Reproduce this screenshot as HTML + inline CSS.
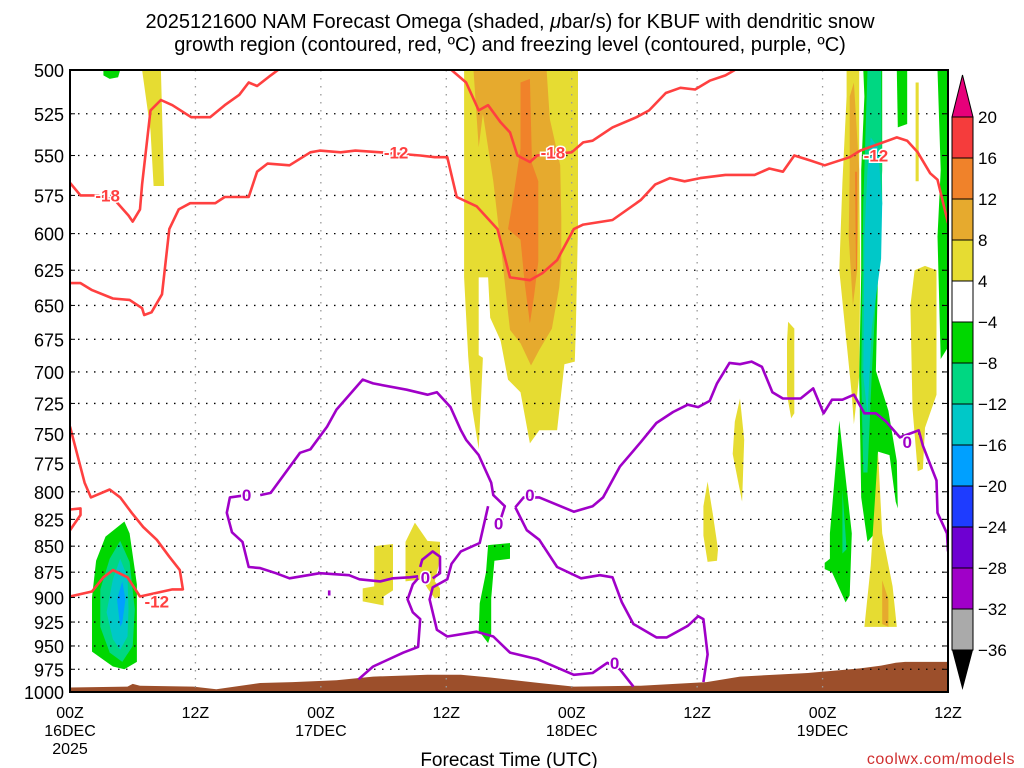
<!DOCTYPE html>
<html><head><meta charset="utf-8"><style>
html,body{margin:0;padding:0;background:#fff;}
svg{display:block;font-family:"Liberation Sans",sans-serif;}
</style></head><body>
<svg id="chart" width="1024" height="768" viewBox="0 0 1024 768" xmlns="http://www.w3.org/2000/svg">
<rect x="0" y="0" width="1024" height="768" fill="#fff"/>
<text x="510" y="28" text-anchor="middle" font-size="20" fill="#000">2025121600 NAM Forecast Omega (shaded, <tspan font-style="italic">μ</tspan>bar/s) for KBUF with dendritic snow</text>
<text x="510" y="51" text-anchor="middle" font-size="20" fill="#000">growth region (contoured, red, ºC) and freezing level (contoured, purple, ºC)</text>
<g id="plot"></g>
<g id="yaxis"></g>
<g id="xaxis"></g>
<g id="cbar"></g>
<text x="509" y="766" text-anchor="middle" font-size="19" fill="#000">Forecast Time (UTC)</text>
<text x="1015" y="764" text-anchor="end" font-size="16" fill="#d03030" letter-spacing="0.5">coolwx.com/models</text>
</svg>
<script>
// ---- data ----
const pLevels=[500,525,550,575,600,625,650,675,700,725,750,775,800,825,850,875,900,925,950,975,1000];
const timeTickLabels=["00Z","12Z","00Z","12Z","00Z","12Z","00Z","12Z"];
const timeTickAll=[0,12,24,36,48,60,72,84];
const dayLabels=[["16DEC","2025"],null,["17DEC"],null,["18DEC"],null,["19DEC"],null];
const cbarBounds=[20,16,12,8,4,-4,-8,-12,-16,-20,-24,-28,-32,-36];
const cbarColors=["#f53c3c","#f0822a","#e6aa2e","#e6dc32","#ffffff","#00d700","#00d782","#00c8c8","#00a0ff","#1e3cff","#6e00d2","#a000c8","#aaaaaa"];
// shaded omega regions [forecast hour, hPa]
const shadeGreenTopLeft=[[3.2,500],[4.8,500],[4.6,504],[3.8,505],[3.2,503]];
const shadeYellowTopLeft=[[6.9,500],[8.7,500],[9.0,569],[8.0,569],[7.7,535]];
const shadeYellowMid=[[37.7,500],[48.6,500],[48.6,595],[48.4,665],[48.3,692],[47.3,694],[46.6,747],[44.9,747],[44.0,758],[43.1,716],[41.9,706],[41.2,676],[40.2,659],[40.0,630],[39.1,630],[39.1,687],[39.5,689],[39.1,763],[38.5,730],[38.1,688],[37.7,630]];
const shadeGoldMid=[[38.6,500],[45.6,500],[45.9,528],[46.9,556],[47.0,589],[47.0,620],[46.8,637],[46.1,667],[44.9,683],[44.1,695],[43.1,678],[42.1,668],[41.9,655],[41.3,614],[40.5,566],[39.5,525],[39.1,545]];
const shadeOrangeMid=[[43.1,507],[44.0,505],[44.2,555],[44.8,566],[44.8,619],[44.4,643],[44.0,663],[43.5,634],[43.1,604],[41.9,597],[42.3,581],[43.1,546]];
const shadeGreenLowLeft=[[5.2,827],[5.7,838],[6.4,887],[6.4,925],[6.4,967],[5.5,973],[5.2,975],[4.1,972],[2.1,956],[2.1,900],[2.5,864],[3.4,841]];
const shadeTealLowLeft=[[4.8,845],[5.7,865],[6.2,912],[6.0,950],[5.0,967],[3.8,957],[2.9,930],[2.9,892],[3.8,862]];
const shadeCyanLowLeft=[[4.8,862],[5.5,880],[5.6,912],[5.5,940],[4.8,954],[4.1,943],[3.5,915],[4.1,882]];
const shadeBlueLowLeft=[[5.0,884],[5.3,902],[5.0,926],[4.8,930],[4.5,902]];
const shadeYellowPatchA=[[29.1,850],[30.9,848],[30.9,893],[30.0,899],[30.0,908],[28.0,904],[28.0,891],[29.1,889]];
const shadeYellowPatchB=[[33.0,828],[34.2,845],[35.4,846],[35.4,863],[34.9,884],[35.4,891],[35.4,899],[34.9,901],[34.2,891],[33.7,882],[32.1,884],[32.1,846]];
const shadeGreen18=[[40.0,849],[42.1,847],[42.1,862],[40.6,864],[40.3,901],[40.3,937],[40.0,947],[39.1,934],[39.2,906],[39.8,875]];
const shadeSpindle1=[[68.7,662],[69.3,667],[69.3,733],[69.0,737],[68.6,718],[68.6,677]];
const shadeSpindle2=[[64.1,721],[64.5,755],[64.3,809],[63.4,767],[63.6,740]];
const shadeSpindle3=[[61.0,791],[61.5,820],[62.0,853],[61.9,864],[61.0,865],[60.6,840],[60.6,813]];
const shadeYellowR1=[[74.3,500],[75.5,500],[75.5,559],[75.6,625],[75.5,703],[75.0,742],[74.8,718],[73.6,625],[73.9,567],[74.3,515]];
const shadeGoldR1=[[74.6,515],[75.0,507],[75.5,559],[75.3,625],[74.9,650],[74.5,602],[74.6,559]];
const shadeOrangeR1=[[75.1,560],[75.3,560],[75.3,625],[75.2,625]];
const shadeGreenR1=[[75.9,500],[77.7,500],[77.7,559],[77.3,627],[77.1,699],[78.3,731],[79.1,773],[79.2,815],[79.0,809],[78.4,768],[77.3,765],[77.0,838],[76.3,846],[75.7,805],[75.5,703],[75.7,627],[75.7,559],[76.0,515]];
const shadeTealR1=[[76.3,500],[77.6,500],[77.7,580],[77.1,643],[76.7,703],[76.3,783],[75.9,783],[75.7,703],[75.9,580]];
const shadeCyanR1=[[76.6,539],[77.3,545],[77.7,580],[77.6,617],[76.7,667],[76.3,734],[75.9,703],[76.0,602],[76.3,559]];
const shadeGreenR2=[[79.1,500],[80.1,500],[80.1,531],[79.2,533]];
const shadeGreenR3=[[83.0,500],[84,500],[84,681],[83.3,690],[83.0,602],[83.3,559]];
const shadeYellowThinR=[[80.9,507],[81.2,507],[81.2,566],[80.9,566]];
const shadeYellowR2=[[80.8,625],[81.8,622],[82.9,625],[82.9,718],[81.8,745],[81.6,780],[81.1,782],[80.6,729],[80.4,650]];
const shadeGreenR4=[[73.6,739],[74.8,838],[74.6,898],[74.2,905],[72.9,875],[72.2,872],[72.2,866],[72.7,862],[72.7,838],[73.2,783]];
const shadeTealR4=[[73.9,798],[74.3,853],[73.9,857],[73.9,822]];
const shadeYellowR3=[[77.3,765],[77.7,838],[78.7,889],[79.1,930],[76.0,930],[76.6,869]];
const shadeGoldR3=[[77.7,883],[78.3,902],[78.3,930],[77.7,927]];
// terrain (surface pressure)
const terrainHours=[0,5.5,6.0,6.7,11.8,14.0,18.2,21.3,25.5,29.0,34.2,37.4,40.2,44.9,48.2,54.6,60.9,64.1,70.6,73.6,75.6,77.6,79.0,79.9,84];
const terrainP=[995,994,991,993,994,997,990,989,987,983,981,981,984,990,994,993,989,983,979,976,974,971,968,967,967];
// red contours (dendritic growth, ºC)
const redMinus18a=[[0,567],[1.0,575],[2.7,575],[4.3,578],[5.6,588],[6.0,592],[6.7,584],[6.9,568],[7.7,523],[8.7,517],[9.8,520],[11.6,527],[13.4,527],[14.8,520],[16.2,514],[17.1,507],[17.9,509],[19.2,503],[19.9,500]];
const redMinus12a=[[0,634],[1.0,634],[2.1,639],[4.1,645],[5.7,646],[6.9,652],[7.1,657],[7.8,655],[8.8,642],[9.5,597],[10.4,584],[11.5,580],[13.9,580],[14.8,576],[17.1,576],[17.9,560],[18.9,555],[21.0,556],[23.0,548],[23.9,547],[25.9,548],[27.3,547],[29.7,548],[33.5,550],[34.9,551],[36.1,551],[37.0,576],[38.9,582],[40.9,597],[42.1,630],[44.0,632],[45.2,627],[46.6,618],[48.2,597],[49.1,594],[51.9,591],[54.6,578],[56.0,568],[57.4,564],[58.8,566],[60.3,564],[62.7,562],[65.5,562],[66.9,558],[68.2,560],[69.3,550],[70.8,553],[72.2,556],[74.6,551],[75.6,547],[79.1,539],[80.1,541],[81.1,548],[82.3,561],[83.0,565],[84,593]];
const redMinus18b=[[36.5,500],[37.9,507],[39.1,523],[40.0,520],[41.2,530],[42.1,536],[42.8,550],[44.0,554],[44.7,550],[48.0,548],[49.1,542],[50.0,541],[51.9,533],[54.2,527],[55.4,523],[57.0,513],[58.4,510],[59.8,511],[61.2,506],[62.7,503],[63.6,500]];
const redMinus12b=[[0,744],[1.4,792],[2.0,805],[3.8,798],[4.8,805],[5.9,819],[7.0,832],[8.3,844],[9.5,860],[10.5,873],[10.8,892],[9.8,892],[6.7,899],[5.5,880],[4.1,873],[3.2,880],[2.1,894],[0,899]];
const redMinus12c=[[0,816],[1.0,815],[1.0,821],[0,835]];
const redLabels=[["-18",3.6,575],["-12",31.2,548],["-18",46.2,548],["-12",77.1,550],["-12",8.3,904]];
// purple contours (freezing level, 0ºC)
const purpleUpper=[[18.2,803],[19.2,801],[22.0,766],[23.0,763],[24.6,744],[25.5,730],[28.0,706],[29.0,709],[32.2,714],[34.2,718],[35.1,716],[36.4,728],[37.4,747],[37.9,755],[39.1,768],[40.3,792],[40.5,803],[41.6,813],[41.2,825]];
const purpleLeft=[[16.9,803],[15.3,805],[15.0,819],[15.5,837],[16.5,846],[17.1,870],[18.2,871],[19.7,876],[21.0,881],[23.9,876],[26.7,878],[27.7,882],[29.7,884],[30.9,881],[32.5,880],[33.3,879]];
const purpleLoop=[[33.5,870],[33.7,863],[34.7,855],[35.4,860],[35.4,876],[34.7,881]];
const purpleLowBranch=[[27.6,986],[29.0,972],[31.9,957],[33.3,951],[33.5,922],[32.8,915],[32.3,902],[32.8,887],[33.3,881]];
const purpleRight=[[40.0,813],[39.2,847],[37.4,855],[36.5,867],[36.1,882],[34.7,890],[34.4,902],[35.1,933],[36.1,940],[38.9,935],[40.5,940],[42.1,957],[44.7,964],[48.2,981],[50.0,979],[51.4,968],[52.6,975],[53.9,994]];
const purpleEast=[[42.6,814],[43.4,805],[44.9,805],[48.2,818],[50.0,813],[51.0,805],[52.6,778],[54.6,757],[56.1,741],[57.7,732],[59.1,726],[60.1,728],[61.2,723],[61.9,709],[63.1,693],[64.1,694],[65.2,692],[66.2,696],[67.2,716],[68.2,721],[69.9,721],[71.1,713],[72.1,733],[72.9,722],[73.9,722],[75.0,718],[76.0,733],[77.1,733],[78.1,740],[79.4,753],[81.2,747],[81.6,760],[82.9,790],[83.0,819],[83.9,838],[84,855]];
const purpleSouth=[[42.6,814],[43.7,835],[44.9,844],[46.6,870],[48.9,881],[50.7,878],[51.9,880],[52.8,905],[53.9,927],[56.1,941],[57.1,941],[59.1,929],[60.1,919],[60.6,922],[60.8,940],[61.0,959],[60.6,989]];
const purpleDot=[[24.8,893],[24.8,898]];
const purpleLabels=[["0",16.9,803],["0",34.0,880],["0",41.0,829],["0",44.0,803],["0",52.1,968],["0",80.1,757]];

// ---- scales ----
const X0=70,X1=948,Y0=70,Y1=692,HMAX=84;
const xS=h=>X0+(h/HMAX)*(X1-X0);
const yS=p=>Y0+(Math.log(p/500)/Math.log(1000/500))*(Y1-Y0);
const NS="http://www.w3.org/2000/svg";
function mk(tag,attrs,parent){const e=document.createElementNS(NS,tag);for(const k in attrs)e.setAttribute(k,attrs[k]);parent.appendChild(e);return e;}
const plotG=document.getElementById('plot');
const pts=a=>a.map(d=>xS(d[0]).toFixed(1)+","+yS(d[1]).toFixed(1)).join(" ");

const defsEl=mk('defs',{},plotG);
const cpEl=mk('clipPath',{id:'pc'},defsEl);
mk('rect',{x:X0,y:Y0,width:X1-X0,height:Y1-Y0},cpEl);
const gIn=mk('g',{'clip-path':'url(#pc)'},plotG);

function shade(arr,color,name){
  const e=mk('polygon',{points:pts(arr),fill:color},gIn);
  
  
}
shade(shadeGreenTopLeft,"#00d700","omega-green-topleft");
shade(shadeYellowTopLeft,"#e6dc32","omega-yellow-topleft");
shade(shadeYellowMid,"#e6dc32","omega-yellow-mid");
shade(shadeGoldMid,"#e6aa2e","omega-gold-mid");
shade(shadeOrangeMid,"#f0822a","omega-orange-mid");
shade(shadeGreenLowLeft,"#00d700","omega-green-lowleft");
shade(shadeTealLowLeft,"#00d782","omega-teal-lowleft");
shade(shadeCyanLowLeft,"#00c8c8","omega-cyan-lowleft");
shade(shadeBlueLowLeft,"#00a0ff","omega-blue-lowleft");
shade(shadeYellowPatchA,"#e6dc32","omega-yellow-patch-a");
shade(shadeYellowPatchB,"#e6dc32","omega-yellow-patch-b");
shade(shadeGreen18,"#00d700","omega-green-18dec");
shade(shadeSpindle1,"#e6dc32","omega-yellow-spindle1");
shade(shadeSpindle2,"#e6dc32","omega-yellow-spindle2");
shade(shadeSpindle3,"#e6dc32","omega-yellow-spindle3");
shade(shadeYellowR1,"#e6dc32","omega-yellow-r1");
shade(shadeGoldR1,"#e6aa2e","omega-gold-r1");
shade(shadeOrangeR1,"#f0822a","omega-orange-r1");
shade(shadeGreenR1,"#00d700","omega-green-r1");
shade(shadeTealR1,"#00d782","omega-teal-r1");
shade(shadeCyanR1,"#00c8c8","omega-cyan-r1");
shade(shadeGreenR2,"#00d700","omega-green-r2");
shade(shadeGreenR3,"#00d700","omega-green-r3");
shade(shadeYellowThinR,"#e6dc32","omega-yellow-thin-r");
shade(shadeYellowR2,"#e6dc32","omega-yellow-r2");
shade(shadeGreenR4,"#00d700","omega-green-r4");
shade(shadeTealR4,"#00d782","omega-teal-r4");
shade(shadeYellowR3,"#e6dc32","omega-yellow-r3");
shade(shadeGoldR3,"#e6aa2e","omega-gold-r3");

const tArr=terrainHours.map((h,i)=>[h,terrainP[i]]);
const terr=mk('polygon',{points:pts(tArr)+" "+xS(HMAX)+","+Y1+" "+xS(0)+","+Y1,fill:"#9c4f2b"},gIn);



pLevels.forEach(p=>{
  const l=mk('line',{x1:X0,x2:X1,y1:yS(p),y2:yS(p),stroke:"#000","stroke-width":1.3,"stroke-dasharray":"1.5,6.5"},gIn);
  
  
});
timeTickAll.forEach(h=>{
  if(h===0||h>=HMAX) return;
  const l=mk('line',{x1:xS(h),x2:xS(h),y1:Y0,y2:Y1,stroke:"#999","stroke-width":1.3,"stroke-dasharray":"1.5,6.5"},gIn);
  
  
});

function contour(arr,color,name){
  const e=mk('polyline',{points:pts(arr),fill:"none",stroke:color,"stroke-width":2.6,"stroke-linejoin":"round"},gIn);
  
  
}
const RED="#ff4040",PUR="#a000c8";
contour(redMinus18a,RED,"contour-minus18-west");
contour(redMinus12a,RED,"contour-minus12-main");
contour(redMinus18b,RED,"contour-minus18-east");
contour(redMinus12b,RED,"contour-minus12-low");
contour(redMinus12c,RED,"contour-minus12-edge");
contour(purpleUpper,PUR,"freezing-level-upper");
contour(purpleLeft,PUR,"freezing-level-left");
contour(purpleLoop,PUR,"freezing-level-loop");
contour(purpleLowBranch,PUR,"freezing-level-low");
contour(purpleRight,PUR,"freezing-level-right");
contour(purpleEast,PUR,"freezing-level-east");
contour(purpleSouth,PUR,"freezing-level-south");
contour(purpleDot,PUR,"freezing-level-dot");

function clabel(arr,color,name){
  arr.forEach(d=>{
    const t=mk('text',{x:xS(d[1]),y:yS(d[2])+6,"text-anchor":"middle","font-size":17,"font-weight":"bold",fill:color,stroke:"#fff","stroke-width":3,"paint-order":"stroke"},gIn);
    t.textContent=d[0];
    
    
  });
}
clabel(redLabels,RED,"contour-label-red");
clabel(purpleLabels,PUR,"contour-label-purple");

const fr=mk('rect',{x:X0,y:Y0,width:X1-X0,height:Y1-Y0,fill:"none",stroke:"#000","stroke-width":2},plotG);



const ya=document.getElementById('yaxis');
pLevels.forEach(p=>{
  const t=mk('text',{x:64,y:yS(p)+7,"text-anchor":"end","font-size":18,fill:"#000"},ya);
  t.textContent=p;
  
  
  mk('line',{x1:X0,x2:X0+5,y1:yS(p),y2:yS(p),stroke:"#000","stroke-width":1},ya);
  mk('line',{x1:X1-5,x2:X1,y1:yS(p),y2:yS(p),stroke:"#000","stroke-width":1},ya);
});
const xa=document.getElementById('xaxis');
timeTickAll.forEach((h,i)=>{
  if(h>HMAX) return;
  const x=xS(h);
  const t=mk('text',{x:x,y:718,"text-anchor":"middle","font-size":16,fill:"#000"},xa);
  t.textContent=timeTickLabels[i];
  
  
  if(dayLabels[i]){
    dayLabels[i].forEach((s,k)=>{
      const d=mk('text',{x:x,y:736+k*18,"text-anchor":"middle","font-size":16,fill:"#000"},xa);
      d.textContent=s;
      
      
    });
  }
});

const cb=document.getElementById('cbar');
const CBX=952,CBW=21,CBT=117,CBH=41;
const cbTop=mk('polygon',{points:`${CBX},${CBT} ${CBX+CBW},${CBT} ${CBX+CBW/2},75`,fill:"#e6007a",stroke:"#000","stroke-width":1},cb);


cbarColors.forEach((c,i)=>{
  const r=mk('rect',{x:CBX,y:CBT+i*CBH,width:CBW,height:CBH,fill:c,stroke:"#000","stroke-width":1},cb);
  
  
});
const ybEnd=CBT+cbarColors.length*CBH;
const cbBot=mk('polygon',{points:`${CBX},${ybEnd} ${CBX+CBW},${ybEnd} ${CBX+CBW/2},${ybEnd+40}`,fill:"#000"},cb);


cbarBounds.forEach((v,i)=>{
  const t=mk('text',{x:978,y:CBT+i*CBH+6,"font-size":17,fill:"#000"},cb);
  t.textContent=v<0?"\u2212"+Math.abs(v):String(v);
  
  
});
</script>
</body></html>
